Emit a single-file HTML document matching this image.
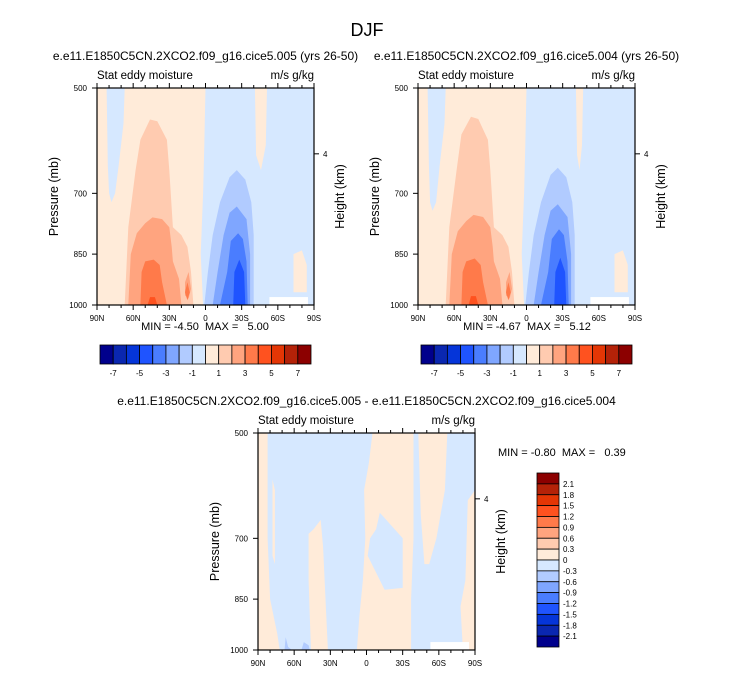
<!DOCTYPE html>
<html><head><meta charset="utf-8"><style>
body{margin:0;background:#fff;}
svg{display:block;font-family:"Liberation Sans",sans-serif;}
</style></head><body>
<svg id="fig" width="733" height="673" viewBox="0 0 733 673" xmlns="http://www.w3.org/2000/svg">
<text x="367" y="36" font-size="18" text-anchor="middle">DJF</text>
</svg>
<script>
const NS="http://www.w3.org/2000/svg";
const svg=document.getElementById('fig');
const colors=["#00008c","#0a27b0","#0535d9","#1f54ff","#4a7dff","#7fa6ff","#b1cbff","#d6e8ff","#ffebd9","#ffcbb0","#ffa47f","#ff7a4a","#ff521f","#e43605","#b42208","#8c0000"];
const cbLabelsTop=["-7","-5","-3","-1","1","3","5","7"];
const cbLabelsDiff=["2.1","1.8","1.5","1.2","0.9","0.6","0.3","0","-0.3","-0.6","-0.9","-1.2","-1.5","-1.8","-2.1"];
const latTicks=[90,60,30,0,-30,-60,-90];
const latTickLabels=["90N","60N","30N","0","30S","60S","90S"];
const presTicks=[500,700,850,1000];
// contour regions: [colorIndex, [[lat,pressure],...]]
const shapesA=[
 [7,[[82,500],[67,500],[68,560],[72,640],[75,700],[78,720],[80,700],[81,640]]],
 [7,[[0,500],[-90,500],[-90,1000],[2,1000],[4,850],[2,700],[1,600]]],
 [8,[[-41,500],[-51,500],[-50,600],[-46,650],[-42,620]]],
 [8,[[-73,850],[-80,840],[-84,880],[-84,960],[-73,960]]],
 [6,[[-26,650],[-20,665],[-12,720],[-6,800],[-2,900],[1,1000],[-40,1000],[-40,800],[-38,720],[-33,670]]],
 [5,[[-26,730],[-20,745],[-15,800],[-10,900],[-6,1000],[-37,1000],[-37,850],[-34,760]]],
 [4,[[-27,795],[-21,815],[-18,900],[-12,1000],[-35,1000],[-34,870],[-31,810]]],
 [3,[[-28,865],[-24,900],[-23,1000],[-33,1000],[-32,900]]],
 [9,[[67,1000],[64,780],[58,650],[54,590],[46,553],[40,556],[32,590],[30,650],[27,780],[20,800],[15,830],[12,900],[10,1000]]],
 [10,[[64,1000],[62,850],[57,795],[50,770],[44,756],[36,760],[30,780],[28,830],[27,870],[22,920],[20,1000]]],
 [10,[[17,930],[14,900],[12,950],[14,980],[17,970]]],
 [11,[[54,1000],[53,900],[50,870],[43,865],[38,880],[36,930],[32,1000]]],
 [11,[[17,960],[15,930],[13,960],[15,985]]],
 [12,[[48,1000],[46,975],[42,975],[40,1000]]]
];
const shapesB=[
 [7,[[82,500],[67,500],[68,560],[72,640],[75,720],[78,740],[80,720],[81,640]]],
 [7,[[0,500],[-90,500],[-90,1000],[2,1000],[4,850],[2,700],[1,600]]],
 [8,[[-41,500],[-47,500],[-46,600],[-44,650],[-42,620]]],
 [8,[[-73,850],[-80,840],[-84,880],[-84,960],[-73,960]]],
 [6,[[-26,645],[-20,660],[-12,720],[-6,800],[-2,900],[1,1000],[-40,1000],[-40,800],[-38,720],[-33,665]]],
 [5,[[-26,725],[-20,740],[-15,800],[-10,900],[-6,1000],[-37,1000],[-37,850],[-34,755]]],
 [4,[[-27,785],[-21,810],[-18,900],[-12,1000],[-35,1000],[-34,870],[-31,800]]],
 [3,[[-28,860],[-24,900],[-23,1000],[-33,1000],[-32,900]]],
 [9,[[67,1000],[64,780],[58,650],[54,580],[46,548],[40,552],[32,590],[30,650],[27,780],[20,800],[15,830],[12,900],[10,1000]]],
 [10,[[64,1000],[62,850],[57,790],[50,765],[44,750],[36,755],[30,780],[28,830],[27,870],[22,920],[20,1000]]],
 [10,[[17,930],[14,900],[12,950],[14,980],[17,970]]],
 [11,[[54,1000],[53,900],[50,870],[43,862],[38,880],[36,930],[32,1000]]],
 [11,[[17,960],[15,930],[13,960],[15,985]]],
 [12,[[48,1000],[46,972],[42,972],[40,1000]]]
];
const shapesC=[
 [7,[[90,500],[-90,500],[-90,1000],[90,1000]]],
 [8,[[90,500],[82,500],[82,700],[80,850],[74,950],[72,1000],[90,1000]]],
 [8,[[78,580],[76,600],[76,760],[78,740]]],
 [8,[[48,690],[44,680],[38,660],[36,720],[34,850],[32,1000],[46,1000],[47,900],[48,800]]],
 [8,[[-5,500],[-39,500],[-39,700],[-37,850],[-37,1000],[8,1000],[6,900],[3,800],[1,700],[2,600],[-2,550]]],
 [7,[[-11,645],[-30,700],[-30,820],[-15,825],[-1,740],[-3,700],[-8,680]]],
 [8,[[-43,500],[-67,500],[-65,600],[-58,700],[-52,760],[-48,760],[-45,650]]],
 [8,[[-84,620],[-90,600],[-90,1000],[-80,1000],[-78,870],[-82,800]]],
 [6,[[68,1000],[67,960],[65,990],[62,1000]]],
 [6,[[54,1000],[52,975],[48,985],[47,1000]]]
];
function el(tag,attrs,parent){const e=document.createElementNS(NS,tag);for(const k in attrs)e.setAttribute(k,attrs[k]);(parent||svg).appendChild(e);return e;}
function panel(name,x0,y0,shapes,title,minmax,mmx,mmy){
 const W=217,H=217;
 const X=lat=>x0+(90-lat)/180*W;
 const Y=p=>y0+H-Math.log(1000/p)/Math.log(2)*H;
 const g=el('g',{});
 
 
 const bg=el('rect',{x:x0,y:y0,width:W,height:H,fill:colors[8]},g);
 
 
 shapes.forEach(s=>{
  const pg=el('polygon',{points:s[1].map(q=>X(q[0]).toFixed(1)+','+Y(q[1]).toFixed(1)).join(' '),fill:colors[s[0]]},g);
  
  
 });
 const miss=el('rect',{x:X(-53),y:Y(975),width:X(-85)-X(-53),height:y0+H-Y(975),fill:'#fff'},g);
 
 
 const fr=el('rect',{x:x0,y:y0,width:W,height:H,fill:'none',stroke:'#000','stroke-width':1.2},g);
 
 
 for(let lat=90;lat>=-90;lat-=10){
  const maj=lat%30===0,L=maj?5:3,x=X(lat);
  el('line',{x1:x,x2:x,y1:y0+H,y2:y0+H+L,stroke:'#000','stroke-width':1},g);
  el('line',{x1:x,x2:x,y1:y0,y2:y0-L,stroke:'#000','stroke-width':1},g);
 }
 latTicks.forEach((lat,i)=>{
  const t=el('text',{x:X(lat),y:y0+H+16,'font-size':8,'text-anchor':'middle'},g);
  t.textContent=latTickLabels[i];
  
  
 });
 presTicks.forEach(p=>{
  const y=Y(p);
  el('line',{x1:x0,x2:x0-5,y1:y,y2:y,stroke:'#000','stroke-width':1},g);
  const t=el('text',{x:x0-10,y:y+3,'font-size':8,'text-anchor':'end'},g);
  t.textContent=p;
  
  
 });
 const y4=Y(617);
 el('line',{x1:x0+W,x2:x0+W+5,y1:y4,y2:y4,stroke:'#000','stroke-width':1},g);
 const t4=el('text',{x:x0+W+9,y:y4+3,'font-size':8},g);t4.textContent='4';
 
 
 const yt=el('text',{x:0,y:0,'font-size':12.5,'text-anchor':'middle',transform:`translate(${x0-39},${y0+H/2}) rotate(-90)`},g);
 yt.textContent='Pressure (mb)';
 
 
 const rt=el('text',{x:0,y:0,'font-size':12.5,'text-anchor':'middle',transform:`translate(${x0+W+30},${y0+H/2}) rotate(-90)`},g);
 rt.textContent='Height (km)';
 
 
 const st=el('text',{x:x0,y:y0-9,'font-size':11.5},g);st.textContent='Stat eddy moisture';
 
 
 const un=el('text',{x:x0+W,y:y0-9,'font-size':11.5,'text-anchor':'end'},g);un.textContent='m/s g/kg';
 
 
 const ti=el('text',{x:x0+W/2,y:y0-28,'font-size':12,'text-anchor':'middle'},g);ti.textContent=title;
 
 
 const mm=el('text',{x:mmx,y:mmy,'font-size':11,'text-anchor':'middle'},g);mm.textContent=minmax;
 
 
}
function hbar(name,x0,y0){
 const g=el('g',{});
 
 
 const w=211/16;
 colors.forEach((c,i)=>{const r=el('rect',{x:x0+i*w,y:y0,width:w,height:19,fill:c,stroke:'#000','stroke-width':0.8},g);
  
  });
 cbLabelsTop.forEach((l,i)=>{const t=el('text',{x:x0+(1+2*i)*w,y:y0+31,'font-size':8,'text-anchor':'middle'},g);t.textContent=l;
  
  });
}
const S='\u00a0';
panel('panel-005',97,88,shapesA,'e.e11.E1850C5CN.2XCO2.f09_g16.cice5.005 (yrs 26-50)','MIN ='+S+'-4.50'+S+S+'MAX ='+S+S+' 5.00',205,330);
panel('panel-004',418,88,shapesB,'e.e11.E1850C5CN.2XCO2.f09_g16.cice5.004 (yrs 26-50)','MIN ='+S+'-4.67'+S+S+'MAX ='+S+S+' 5.12',527,330);
panel('panel-diff',258,433,shapesC,'e.e11.E1850C5CN.2XCO2.f09_g16.cice5.005 - e.e11.E1850C5CN.2XCO2.f09_g16.cice5.004','',0,0);
hbar('colorbar-005',100,345);
hbar('colorbar-004',421,345);
const mmd=el('text',{x:498,y:456,'font-size':11});mmd.textContent='MIN ='+S+'-0.80'+S+S+'MAX ='+S+S+' 0.39';


const vb=el('g',{});


const vh=174/16;
colors.slice().reverse().forEach((c,i)=>{const r=el('rect',{x:537,y:473+i*vh,width:22,height:vh,fill:c,stroke:'#000','stroke-width':0.8},vb);
 
 });
cbLabelsDiff.forEach((l,i)=>{const t=el('text',{x:563,y:473+(i+1)*vh+3,'font-size':8},vb);t.textContent=l;
 
 });
</script>
</body></html>
